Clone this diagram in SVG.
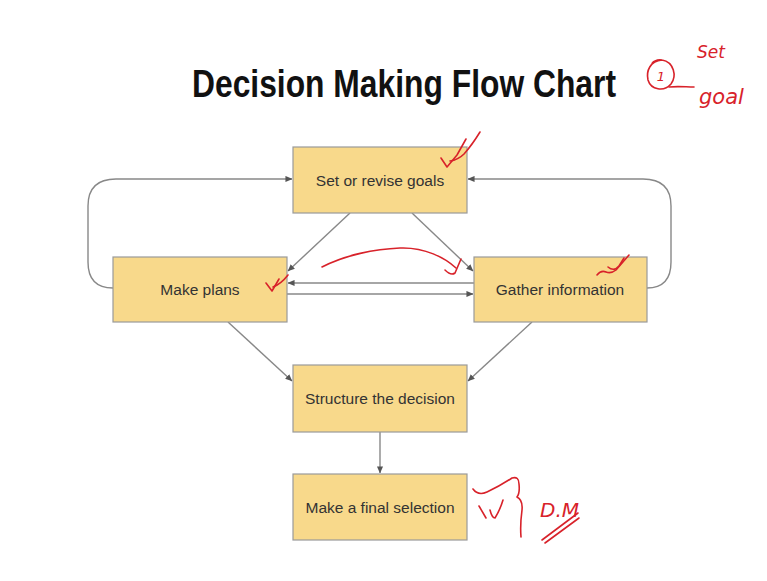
<svg xmlns="http://www.w3.org/2000/svg" width="767" height="581" viewBox="0 0 767 581">
<defs>
<marker id="arr" viewBox="0 0 8 8" refX="7.5" refY="4" markerWidth="7" markerHeight="7" markerUnits="userSpaceOnUse" orient="auto">
<path d="M0,0.5 L8,4 L0,7.5 Z" fill="#555"/>
</marker>
<style>
.box{fill:#F8D98B;stroke:#9a9a9a;stroke-width:1.2}
.lbl{font-family:"Liberation Sans",Arial,sans-serif;font-size:15.5px;fill:#333;text-anchor:middle}
.con{fill:none;stroke:#888;stroke-width:1.4;marker-end:url(#arr)}
.ink{fill:none;stroke:#d8222a;stroke-width:1.6;stroke-linecap:round;stroke-linejoin:round}
.inkt{font-family:"DejaVu Sans",sans-serif;font-style:italic;fill:#d8222a}
</style>
</defs>
<rect width="767" height="581" fill="#ffffff"/>
<text x="192" y="97" font-family="Liberation Sans, Arial, sans-serif" font-weight="bold" font-size="39" fill="#111" textLength="424" lengthAdjust="spacingAndGlyphs">Decision Making Flow Chart</text>

<g id="connectors">
<path class="con" d="M350,213 L288,271"/>
<path class="con" d="M412,213 L473,271"/>
<path class="con" d="M474,283 L288,283"/>
<path class="con" d="M287,294 L473,294"/>
<path class="con" d="M113,288 Q88,288 88,262 V206 Q88,179 116,179 H292"/>
<path class="con" d="M647,288 Q671,288 671,262 V206 Q671,179 643,179 H468"/>
<path class="con" d="M228,322 L292,381"/>
<path class="con" d="M532,322 L468,381"/>
<path class="con" d="M380,432 L380,473"/>
</g>

<g id="n-goals"><rect class="box" x="293" y="147" width="174" height="66"/><text class="lbl" x="380" y="186">Set or revise goals</text></g>
<g id="n-plans"><rect class="box" x="113" y="257" width="174" height="65"/><text class="lbl" x="200" y="295">Make plans</text></g>
<g id="n-info"><rect class="box" x="474" y="257" width="173" height="65"/><text class="lbl" x="560" y="295">Gather information</text></g>
<g id="n-structure"><rect class="box" x="293" y="365" width="174" height="67"/><text class="lbl" x="380" y="404">Structure the decision</text></g>
<g id="n-final"><rect class="box" x="293" y="474" width="174" height="66"/><text class="lbl" x="380" y="513">Make a final selection</text></g>

<g id="annotations">
<path class="ink" d="M662,60 C650,61 646,71 648,80 C651,90 664,92 671,84 C677,76 674,62 662,60 C657,59 652,62 652,64"/>
<path class="ink" d="M669,87 C678,86 686,87 694,87"/>
<text class="inkt" x="661" y="81" font-size="13" text-anchor="middle">1</text>
<text class="inkt" x="697" y="58" font-size="17">Set</text>
<text class="inkt" x="699" y="104" font-size="21">goal</text>
<path class="ink" d="M441,158 L447,167 L457,155 L466,139"/>
<path class="ink" d="M450,161 Q458,160 464,154 Q472,145 480,132"/>
<path class="ink" d="M322,267 C345,255 375,249 400,248 C425,247 445,258 456,268"/>
<path class="ink" d="M445,270 Q451,276 455,273 L461,259"/>
<path class="ink" d="M266,283 L272,291 L279,279"/>
<path class="ink" d="M273,287 Q281,284 288,275"/>
<path class="ink" d="M597,275 Q601,270 606,272 Q611,274 616,270 L629,255"/>
<path class="ink" d="M608,267 Q614,272 619,266 L624,258"/>
<path class="ink" d="M473,489 Q478,496 487,492 Q500,486 512,478 Q519,476 519,484 Q520,493 517,497 Q523,500 522,510 Q520,525 521,537"/>
<path class="ink" d="M479,506 L486,518 M490,510 Q492,518 495,518 Q500,510 503,500"/>
<text class="inkt" x="540" y="517" font-size="20">D.M</text>
<path class="ink" d="M542,540 L578,513 M545,543 L579,518"/>
</g>
</svg>
